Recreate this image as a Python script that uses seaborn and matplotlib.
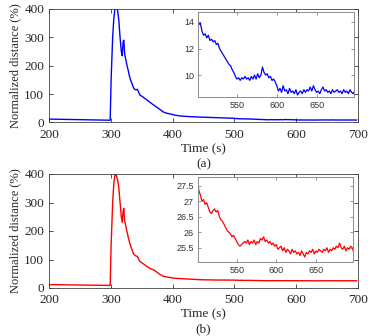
import numpy as np
import pandas as pd
import matplotlib
matplotlib.use("Agg")
import matplotlib.pyplot as plt
import seaborn as sns

# Main curve before t = 500 s
t_early = [200, 250, 299, 300.5, 303, 305, 307, 309, 311, 313,
           315, 317, 318.5, 320, 321, 322.5, 324, 326, 328, 331,
           334, 337, 340, 343, 347, 352, 358, 364, 369, 375,
           380, 385, 390, 396, 404, 412, 425, 445, 470, 498]

dist_a_early = [12, 10, 8, 150, 300, 370, 405, 410, 395, 360,
                300, 250, 235, 285, 290, 240, 225, 203, 185, 156,
                138, 121, 115, 117, 97, 90, 80, 70, 62, 53,
                45, 37, 33, 30, 26, 23, 21, 19, 17, 15]

dist_b_early = [12, 10.5, 9, 150, 300, 370, 400, 395, 380, 350,
                300, 250, 230, 270, 280, 235, 220, 200, 180, 155,
                136, 119, 113, 111, 93, 86, 76, 68, 64, 55,
                47, 41, 39, 37, 34, 33, 31, 29, 28, 27.8]

# Late part (500-698 s, every 2 s), also shown in the insets
t_late = list(range(500, 700, 2))

dist_a_late = [14.8, 13.8, 13.9, 13.3, 13.0, 13.1, 12.8, 13.0, 12.6, 12.7,
               12.5, 12.6, 12.3, 12.4, 12.0, 11.8, 11.6, 11.4, 11.2, 11.0,
               10.8, 10.7, 10.4, 10.2, 9.9, 9.7, 9.8, 9.6, 9.8, 9.7,
               9.9, 9.7, 9.8, 9.6, 9.9, 9.7, 10.0, 9.7, 10.1, 9.8,
               10.0, 10.6, 10.2, 10.0, 10.1, 9.8, 9.9, 9.6, 9.7, 9.5,
               9.2, 8.8, 9.0, 8.7, 9.2, 8.8, 8.9, 8.6, 9.0, 8.7,
               8.8, 8.6, 8.9, 8.5, 8.7, 8.8, 8.6, 8.9, 8.7, 8.9,
               8.8, 9.1, 8.8, 9.2, 8.9, 8.7, 8.8, 8.6, 8.9, 9.1,
               8.8, 8.9, 8.7, 8.8, 8.6, 8.9, 8.7, 8.8, 8.9, 8.7,
               8.8, 8.6, 8.9, 8.7, 8.8, 8.6, 8.9, 8.7, 8.6, 8.8]

dist_b_late = [27.75, 27.35, 27.2, 27.0, 27.05, 26.9, 26.95, 26.8, 26.65, 26.6,
               26.7, 26.75, 26.65, 26.7, 26.5, 26.4, 26.35, 26.25, 26.15, 26.05,
               26.0, 25.95, 25.85, 25.9, 25.8, 25.7, 25.6, 25.55, 25.6, 25.65,
               25.7, 25.65, 25.75, 25.6, 25.7, 25.65, 25.75, 25.6, 25.7, 25.65,
               25.8, 25.75, 25.85, 25.7, 25.75, 25.65, 25.7, 25.6, 25.65, 25.55,
               25.6, 25.45, 25.5, 25.55, 25.4, 25.5, 25.35, 25.45, 25.4, 25.3,
               25.45, 25.35, 25.4, 25.3, 25.35, 25.25, 25.4, 25.3, 25.2, 25.35,
               25.3, 25.4, 25.35, 25.45, 25.3, 25.4, 25.35, 25.45, 25.4, 25.35,
               25.45, 25.4, 25.5, 25.35, 25.45, 25.4, 25.5, 25.45, 25.55, 25.5,
               25.65, 25.5, 25.45, 25.55, 25.4, 25.5, 25.45, 25.55, 25.5, 25.35]

main_xticks = [200, 300, 400, 500, 600, 700]
main_yticks = [0, 100, 200, 300, 400]
inset_xticks = [550, 600, 650]
inset_a_yticks = [10, 12, 14]
inset_a_ylabels = ["10", "12", "14"]
inset_b_yticks = [25.5, 26, 26.5, 27, 27.5]
inset_b_ylabels = ["25.5", "26", "26.5", "27", "27.5"]

sns.set_style("ticks")
plt.rcParams['font.family'] = ['Liberation Serif', 'DejaVu Serif']
plt.rcParams['xtick.direction'] = 'in'
plt.rcParams['ytick.direction'] = 'in'

W, H = 374, 336
fig = plt.figure(figsize=(W / 100, H / 100), dpi=100)


def rect(x0, y0, x1, y1):
    # pixel box (top-left origin) -> figure fraction
    return [x0 / W, 1 - y1 / H, (x1 - x0) / W, (y1 - y0) / H]


def panel(main_box, inset_box, early, late, color, ins_ylim, ins_yticks, ins_ylabels, letter):
    df = pd.DataFrame({"t": t_early + t_late, "d": early + late})
    ax = fig.add_axes(rect(*main_box))
    sns.lineplot(data=df, x="t", y="d", color=color, lw=1.0, ax=ax)
    ax.set_xlim(200, 700)
    ax.set_ylim(0, 400)
    ax.set_xticks(main_xticks)
    ax.set_yticks(main_yticks)
    ax.tick_params(labelsize=9.5, length=3, width=0.6, color="0.2", top=True, right=True)
    ax.tick_params(axis="x", pad=4.5)
    ax.tick_params(axis="y", pad=3.5)
    for s in ax.spines.values():
        s.set_color("0.25")
        s.set_linewidth(0.6)
    ax.set_xlabel("Time (s)", fontsize=9.5, labelpad=1.5)
    ax.set_ylabel("Normalized distance (%)", fontsize=9, labelpad=2)
    ax.text(0.5, -0.366, letter, transform=ax.transAxes, ha="center", va="center", fontsize=9.5)

    ins = fig.add_axes(rect(*inset_box))
    dfi = pd.DataFrame({"t": t_late, "d": late})
    sns.lineplot(data=dfi, x="t", y="d", color=color, lw=0.9, ax=ins)
    ins.set_xlim(501, 697)
    ins.set_ylim(*ins_ylim)
    ins.set_xticks(inset_xticks)
    ins.set_yticks(ins_yticks)
    ins.set_yticklabels(ins_ylabels)
    ins.set_xlabel("")
    ins.set_ylabel("")
    ins.tick_params(labelsize=6.5, length=2.5, width=0.5, color="0.4", labelcolor="0.2",
                    top=True, right=True, pad=3)
    for lab in ins.get_xticklabels() + ins.get_yticklabels():
        lab.set_fontfamily("Liberation Sans")
    for s in ins.spines.values():
        s.set_color("0.55")
        s.set_linewidth(0.7)


panel((49, 9, 358, 122.5), (198, 12, 354, 97), dist_a_early, dist_a_late, (0, 0, 1),
      (8.35, 14.75), inset_a_yticks, inset_a_ylabels, "(a)")
panel((49, 174, 358, 288), (198, 177, 353, 262), dist_b_early, dist_b_late, (1, 0, 0),
      (25.04, 27.78), inset_b_yticks, inset_b_ylabels, "(b)")

fig.savefig("out.png", dpi=100)
